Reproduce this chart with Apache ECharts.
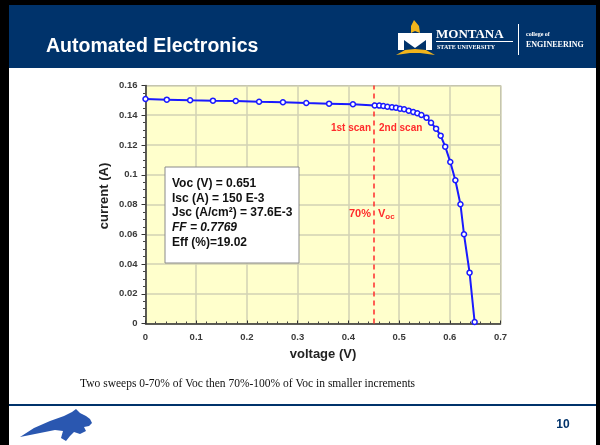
<!DOCTYPE html>
<html>
<head>
<meta charset="utf-8">
<script src="https://cdn.jsdelivr.net/npm/echarts@6/dist/echarts.min.js"></script>
<style>html,body{margin:0;padding:0;background:#fff}#c{width:600px;height:445px}</style>
</head>
<body>
<div id="c"></div>
<script>
// ---- data ----
var voltage = [0, 0.042, 0.088, 0.133, 0.178, 0.224, 0.271, 0.317, 0.362, 0.409, 0.452,
  0.461, 0.469, 0.477, 0.486, 0.494, 0.502, 0.510, 0.519, 0.528, 0.536, 0.544,
  0.554, 0.563, 0.573, 0.582, 0.591, 0.601, 0.611, 0.621, 0.628, 0.639, 0.649];
var current = [0.1509, 0.1505, 0.1501, 0.1498, 0.1496, 0.1491, 0.1487, 0.1482, 0.1478, 0.1474, 0.1466,
  0.1465, 0.1462, 0.1457, 0.1453, 0.1451, 0.1444, 0.1440, 0.1431, 0.1422, 0.1413, 0.1402,
  0.1384, 0.1350, 0.1310, 0.1263, 0.1189, 0.1086, 0.0963, 0.0802, 0.0600, 0.0342, 0.0010];
var scanSplit = [0.453];
var infoLines = ['Voc (V) = 0.651', 'Isc (A) = 150 E-3', 'Jsc (A/cm\u00B2) = 37.6E-3', 'FF = 0.7769', 'Eff (%)=19.02'];

var points = voltage.map(function (v, i) { return [v, current[i]]; });

var chart = echarts.init(document.getElementById('c'), null, {renderer: 'canvas'});

var tickFont = {fontFamily: 'Arial, Liberation Sans, sans-serif', fontWeight: 'bold', fontSize: 9.5, color: '#3a3a3a'};
var red = '#ff2b2b';
var navy = '#00336b';
var sans = 'Arial, Liberation Sans, sans-serif';

var graphics = [
  // slide frame
  {type: 'rect', shape: {x: 0, y: 0, width: 9, height: 445}, style: {fill: '#000'}, silent: true},
  {type: 'rect', shape: {x: 0, y: 0, width: 600, height: 5}, style: {fill: '#000'}, silent: true},
  {type: 'rect', shape: {x: 596, y: 0, width: 4, height: 445}, style: {fill: '#000'}, silent: true},
  {type: 'rect', shape: {x: 9, y: 5, width: 587, height: 63}, style: {fill: navy}, silent: true},
  {type: 'text', x: 46, y: 47, style: {text: 'Automated Electronics', fill: '#fff', font: 'bold 19.5px ' + sans, verticalAlign: 'middle'}},
  // logo
  {type: 'polygon', shape: {points: [[414, 20], [419, 26], [420, 33], [415, 31], [411, 33], [411, 26]]}, style: {fill: '#f2b51c'}},
  {type: 'polygon', shape: {points: [[398, 33], [432, 33], [432, 50], [426, 50], [426, 40], [415, 48], [404, 40], [404, 50], [398, 50]]}, style: {fill: '#fff'}},
  {type: 'polygon', shape: {points: [[396, 55], [405, 50], [415, 49], [426, 50], [435, 55], [420, 53], [410, 53]]}, style: {fill: '#f2b51c'}},
  {type: 'text', x: 436, y: 35, style: {text: 'MONTANA', fill: '#fff', font: 'bold 13px "Liberation Serif", serif', verticalAlign: 'middle'}},
  {type: 'rect', shape: {x: 436, y: 41, width: 77, height: 1}, style: {fill: '#fff'}},
  {type: 'text', x: 437, y: 47, style: {text: 'STATE UNIVERSITY', fill: '#fff', font: 'bold 6px "Liberation Serif", serif', verticalAlign: 'middle'}},
  {type: 'rect', shape: {x: 518, y: 24, width: 1, height: 31}, style: {fill: '#fff'}},
  {type: 'text', x: 526, y: 34, style: {text: 'college of', fill: '#fff', font: 'bold 6px "Liberation Serif", serif', verticalAlign: 'middle'}},
  {type: 'text', x: 526, y: 45, style: {text: 'ENGINEERING', fill: '#fff', font: 'bold 8px "Liberation Serif", serif', verticalAlign: 'middle'}},
  // axis names
  {type: 'text', x: 104, y: 196, rotation: Math.PI / 2, style: {text: 'current (A)', fill: '#222', font: 'bold 13px ' + sans, align: 'center', verticalAlign: 'middle'}},
  {type: 'text', x: 323, y: 354, style: {text: 'voltage (V)', fill: '#222', font: 'bold 13px ' + sans, align: 'center', verticalAlign: 'middle'}},
  // info box
  {type: 'rect', z: 10, shape: {x: 165, y: 167, width: 134, height: 96}, style: {fill: '#fff', stroke: '#8a8a8a', lineWidth: 1}},
  // scan labels
  {type: 'text', z: 10, x: 371, y: 128, style: {text: '1st scan', fill: red, font: 'bold 10px ' + sans, align: 'right', verticalAlign: 'middle'}},
  {type: 'text', z: 10, x: 379, y: 128, style: {text: '2nd scan', fill: red, font: 'bold 10px ' + sans, align: 'left', verticalAlign: 'middle'}},
  {type: 'text', z: 10, x: 371, y: 214, style: {text: '70%', fill: red, font: 'bold 11px ' + sans, align: 'right', verticalAlign: 'middle'}},
  {type: 'text', z: 10, x: 378, y: 214, style: {text: 'V{s|oc}', fill: red, font: 'bold 11px ' + sans, align: 'left', verticalAlign: 'middle',
    rich: {s: {fill: red, font: 'bold 8px ' + sans, padding: [5, 0, 0, 0]}}}},
  // footer
  {type: 'text', x: 80, y: 384, style: {text: 'Two sweeps 0-70% of Voc then 70%-100% of Voc in smaller increments', fill: '#111', font: '11.5px "Liberation Serif", "Times New Roman", serif', verticalAlign: 'middle'}},
  {type: 'rect', shape: {x: 9, y: 404, width: 587, height: 2}, style: {fill: navy}},
  {type: 'polygon', shape: {points: [[20, 437], [34, 428], [50, 421], [64, 416], [72, 412], [76, 409], [80, 413], [86, 416], [90, 419], [92, 423], [89, 426], [84, 427], [86, 431], [80, 434], [74, 432], [70, 436], [66, 441], [61, 438], [63, 431], [55, 430], [40, 433]]}, style: {fill: '#2a57b0'}},
  {type: 'text', x: 563, y: 425, style: {text: '10', fill: navy, font: 'bold 12px ' + sans, align: 'center', verticalAlign: 'middle'}}
];
infoLines.forEach(function (t, i) {
  graphics.push({type: 'text', z: 11, x: 172, y: 183.5 + i * 14.7,
    style: {text: t, fill: '#111', font: (i === 3 ? 'italic ' : '') + 'bold 12px ' + sans, verticalAlign: 'middle'}});
});

chart.setOption({
  animation: false,
  grid: {left: 145.5, right: 99.5, top: 85.5, bottom: 121.5, show: true, backgroundColor: '#ffffcc', borderColor: '#a0a0a0', borderWidth: 1},
  xAxis: {
    type: 'value', min: 0, max: 0.7, interval: 0.1,
    axisLine: {show: true, onZero: false, lineStyle: {color: '#333', width: 1.5}},
    axisTick: {show: true, inside: true, length: 3, lineStyle: {color: '#333'}},
    minorTick: {show: true, splitNumber: 5, length: 2, lineStyle: {color: '#444'}},
    splitLine: {show: true, lineStyle: {color: '#d2d2b4', width: 1.5}},
    axisLabel: Object.assign({margin: 9}, tickFont)
  },
  yAxis: {
    type: 'value', min: 0, max: 0.16, interval: 0.02,
    axisLine: {show: true, onZero: false, lineStyle: {color: '#333', width: 1.5}},
    axisTick: {show: true, length: 4, lineStyle: {color: '#333'}},
    minorTick: {show: true, splitNumber: 4, length: 2.5, lineStyle: {color: '#444'}},
    splitLine: {show: true, lineStyle: {color: '#d2d2b4', width: 1.5}},
    axisLabel: Object.assign({margin: 8}, tickFont)
  },
  series: [{
    type: 'line', data: points, symbol: 'circle', symbolSize: 5,
    lineStyle: {color: '#1a1aff', width: 2},
    itemStyle: {color: '#ffffff', borderColor: '#1a1aff', borderWidth: 1.5},
    z: 5,
    markLine: {
      silent: true, symbol: 'none', label: {show: false},
      lineStyle: {color: red, type: [5, 4], width: 1.5},
      data: scanSplit.map(function (v) { return {xAxis: v}; })
    }
  }],
  graphic: graphics
});
</script>
</body>
</html>
